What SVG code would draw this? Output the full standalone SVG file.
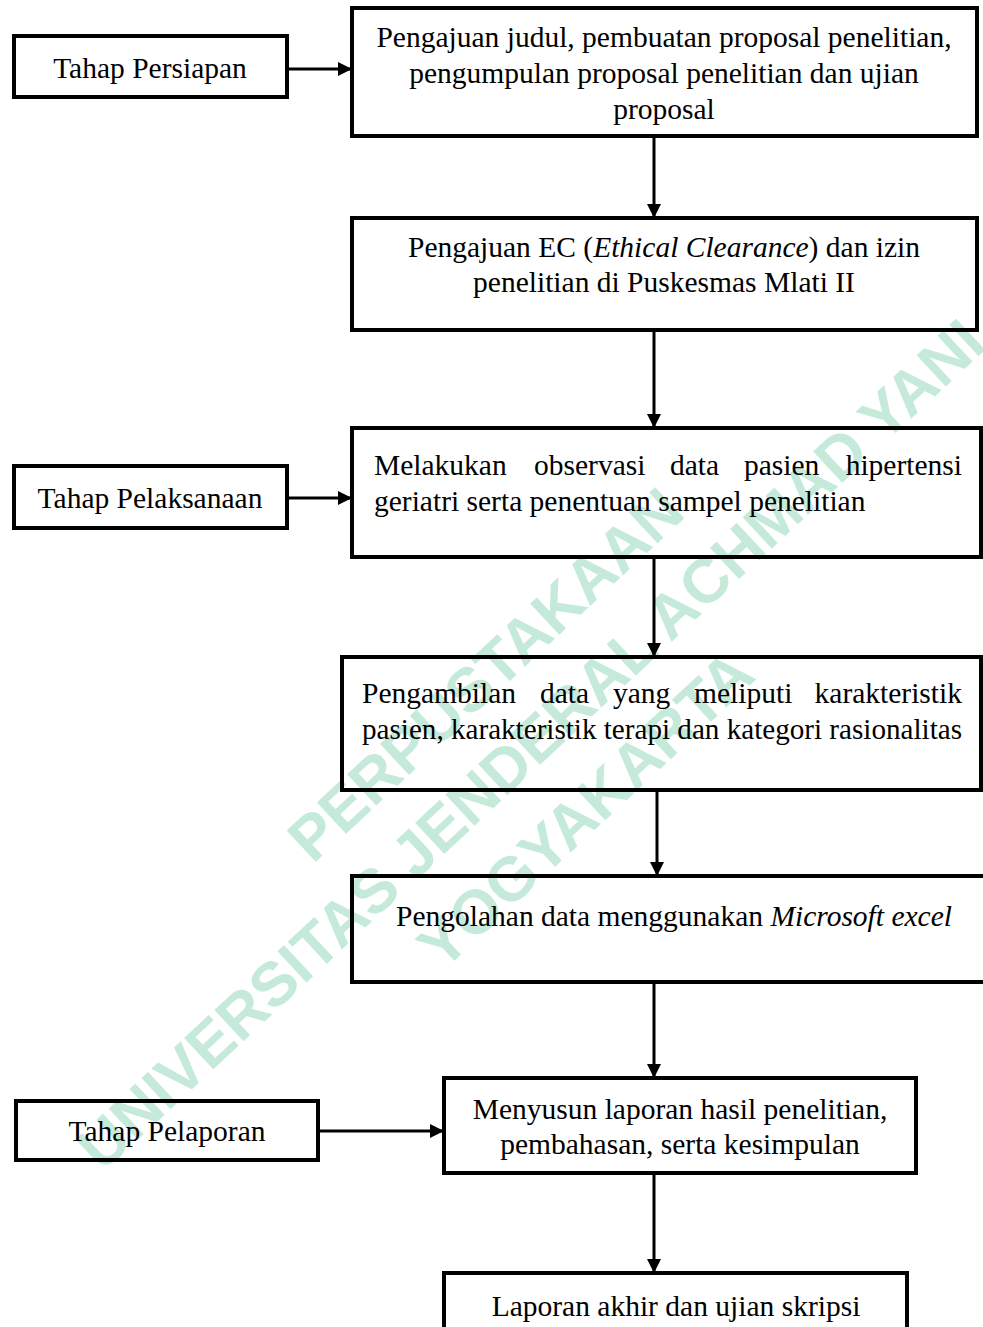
<svg xmlns="http://www.w3.org/2000/svg" width="983" height="1327" viewBox="0 0 983 1327">
<style>
.box{fill:none;stroke:#000;stroke-width:4}
.t{font-family:"Liberation Serif","Times New Roman",serif;font-size:29.5px;fill:#000}
.c{text-anchor:middle}
.e{text-anchor:end}
.wm{font-family:"Liberation Sans",Arial,sans-serif;font-weight:bold;font-size:62px;fill:#bfe8d6;text-anchor:middle}
.conn{stroke:#000;stroke-width:3;fill:none}
</style>
<defs>
<marker id="arr" markerUnits="userSpaceOnUse" markerWidth="14" markerHeight="14" refX="14" refY="7" orient="auto">
<path d="M0,0 L14,7 L0,14 z" fill="#000"/>
</marker>
</defs>
<rect width="983" height="1327" fill="#fff"/>
<g id="watermark" opacity="0.9">
<text class="wm" transform="translate(500,690) rotate(-43)">PERPUSTAKAAN</text>
<text class="wm" transform="translate(545,760) rotate(-43)">UNIVERSITAS JENDERAL ACHMAD YANI</text>
<text class="wm" transform="translate(600,825) rotate(-43)">YOGYAKARTA</text>
</g>
<g id="connectors">
<line class="conn" x1="287" y1="69" x2="352" y2="69" marker-end="url(#arr)"/>
<line class="conn" x1="654" y1="136" x2="654" y2="218" marker-end="url(#arr)"/>
<line class="conn" x1="654" y1="330" x2="654" y2="428" marker-end="url(#arr)"/>
<line class="conn" x1="287" y1="498" x2="352" y2="498" marker-end="url(#arr)"/>
<line class="conn" x1="654" y1="557" x2="654" y2="657" marker-end="url(#arr)"/>
<line class="conn" x1="657" y1="790" x2="657" y2="876" marker-end="url(#arr)"/>
<line class="conn" x1="654" y1="982" x2="654" y2="1078" marker-end="url(#arr)"/>
<line class="conn" x1="318" y1="1131" x2="444" y2="1131" marker-end="url(#arr)"/>
<line class="conn" x1="654" y1="1173" x2="654" y2="1273" marker-end="url(#arr)"/>
</g>
<g id="tahap-persiapan">
<rect class="box" x="14" y="36" width="273" height="61"/>
<text class="t c" x="150" y="78">Tahap Persiapan</text>
</g>
<g id="pengajuan-judul">
<rect class="box" x="352" y="8" width="625" height="128"/>
<text class="t c" x="664" y="47">Pengajuan judul, pembuatan proposal penelitian,</text>
<text class="t c" x="664" y="83">pengumpulan proposal penelitian dan ujian</text>
<text class="t c" x="664" y="119">proposal</text>
</g>
<g id="pengajuan-ec">
<rect class="box" x="352" y="218" width="625" height="112"/>
<text class="t c" x="664" y="257">Pengajuan EC (<tspan font-style="italic">Ethical Clearance</tspan>) dan izin</text>
<text class="t c" x="664" y="292">penelitian di Puskesmas Mlati II</text>
</g>
<g id="tahap-pelaksanaan">
<rect class="box" x="14" y="466" width="273" height="62"/>
<text class="t c" x="150" y="508">Tahap Pelaksanaan</text>
</g>
<g id="observasi">
<rect class="box" x="352" y="428" width="629" height="129"/>
<text class="t" y="475"><tspan x="374">Melakukan</tspan><tspan x="534">observasi</tspan><tspan x="670">data</tspan><tspan x="744">pasien</tspan></text>
<text class="t e" x="962" y="475">hipertensi</text>
<text class="t" x="374" y="511">geriatri serta penentuan sampel penelitian</text>
</g>
<g id="pengambilan-data">
<rect class="box" x="342" y="657" width="639" height="133"/>
<text class="t" y="703"><tspan x="362">Pengambilan</tspan><tspan x="540">data</tspan><tspan x="613">yang</tspan><tspan x="694">meliputi</tspan></text>
<text class="t e" x="962" y="703">karakteristik</text>
<text class="t" x="362" y="739" textLength="600" lengthAdjust="spacingAndGlyphs">pasien, karakteristik terapi dan kategori rasionalitas</text>
</g>
<g id="pengolahan-data">
<rect class="box" x="352" y="876" width="633" height="106"/>
<text class="t c" x="674" y="926">Pengolahan data menggunakan <tspan font-style="italic">Microsoft excel</tspan></text>
</g>
<g id="tahap-pelaporan">
<rect class="box" x="16" y="1101" width="302" height="59"/>
<text class="t c" x="167" y="1141">Tahap Pelaporan</text>
</g>
<g id="menyusun-laporan">
<rect class="box" x="444" y="1078" width="472" height="95"/>
<text class="t c" x="680" y="1119">Menyusun laporan hasil penelitian,</text>
<text class="t c" x="680" y="1154">pembahasan, serta kesimpulan</text>
</g>
<g id="laporan-akhir">
<rect class="box" x="444" y="1273" width="463" height="60"/>
<text class="t c" x="676" y="1316">Laporan akhir dan ujian skripsi</text>
</g>
</svg>
